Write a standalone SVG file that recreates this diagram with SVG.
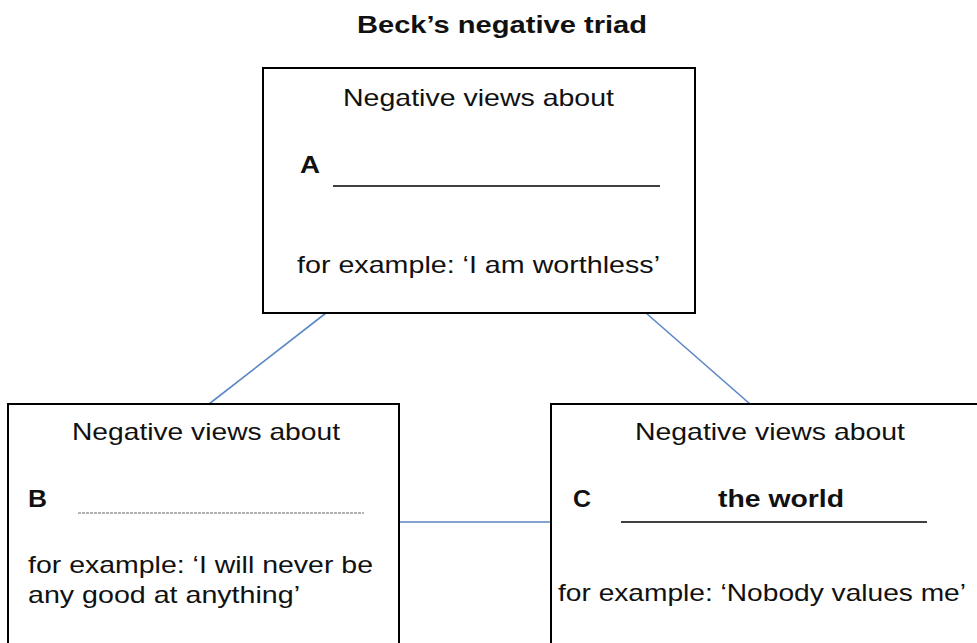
<svg xmlns="http://www.w3.org/2000/svg" width="977" height="643" viewBox="0 0 977 643">
<style>
.box{fill:#fff;stroke:#000;stroke-width:2}
.t{font-family:"Liberation Sans",Arial,sans-serif;font-size:24px;fill:#111}
.b{font-weight:bold}
.c{text-anchor:middle}
.conn{stroke:#5b87c5;stroke-width:1.6;fill:none}
.ul{stroke:#000;stroke-width:1.6}
</style>
<rect width="977" height="643" fill="#fff"/>
<text class="t b c" x="502" y="33" textLength="290" lengthAdjust="spacingAndGlyphs">Beck’s negative triad</text>
<g id="connectors">
<line class="conn" x1="326" y1="313" x2="209" y2="404"/>
<line class="conn" x1="646" y1="313" x2="750" y2="404"/>
<line class="conn" x1="399" y1="522" x2="551" y2="522"/>
</g>
<g id="nodeA">
<rect class="box" x="263" y="68" width="432" height="245"/>
<text class="t c" x="478.5" y="106" textLength="271" lengthAdjust="spacingAndGlyphs">Negative views about</text>
<text class="t b" x="300" y="173" textLength="20" lengthAdjust="spacingAndGlyphs">A</text>
<line class="ul" x1="333" y1="186" x2="660" y2="186"/>
<text class="t c" x="478.5" y="273" textLength="363" lengthAdjust="spacingAndGlyphs">for example: ‘I am worthless’</text>
</g>
<g id="nodeB">
<rect class="box" x="8" y="404" width="391" height="260"/>
<text class="t c" x="206" y="440" textLength="268" lengthAdjust="spacingAndGlyphs">Negative views about</text>
<text class="t b" x="28" y="507" textLength="19" lengthAdjust="spacingAndGlyphs">B</text>
<line x1="78" y1="513" x2="364" y2="513" stroke="#666" stroke-width="1" stroke-dasharray="3,1"/>
<text class="t" x="28" y="573" textLength="345" lengthAdjust="spacingAndGlyphs">for example: ‘I will never be</text>
<text class="t" x="28" y="603" textLength="272" lengthAdjust="spacingAndGlyphs">any good at anything’</text>
</g>
<g id="nodeC">
<rect class="box" x="551" y="404" width="440" height="260"/>
<text class="t c" x="770" y="440" textLength="270" lengthAdjust="spacingAndGlyphs">Negative views about</text>
<text class="t b" x="573" y="507" textLength="18" lengthAdjust="spacingAndGlyphs">C</text>
<text class="t b c" x="781" y="507" textLength="126" lengthAdjust="spacingAndGlyphs">the world</text>
<line class="ul" x1="621" y1="522" x2="927" y2="522"/>
<text class="t" x="558" y="601" textLength="408" lengthAdjust="spacingAndGlyphs">for example: ‘Nobody values me’</text>
</g>
</svg>
